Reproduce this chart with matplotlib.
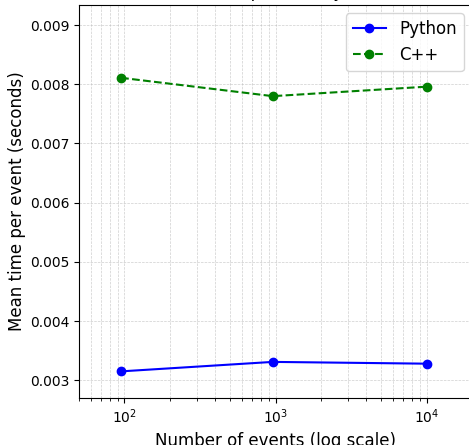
import matplotlib
matplotlib.use("Agg")
import matplotlib.pyplot as plt

events = [95, 960, 10000]
python_times = [0.00315, 0.00331, 0.00328]
cpp_times = [0.00811, 0.00780, 0.00796]

W, H = 469, 445
fig = plt.figure(figsize=(W / 100, H / 100), dpi=100)
ax = fig.add_axes([79 / W, 1 - 398 / H, (472 - 79) / W, (398 - 5) / H])

ax.plot(events, python_times, 'o-', color='blue', label='Python')
ax.plot(events, cpp_times, 'o--', color='green', label='C++')
ax.set_xscale('log')
ax.set_xlim(50, 20000)
ax.set_ylim(0.00270, 0.00934)
ax.set_xlabel('Number of events (log scale)', fontsize=12)
ax.set_ylabel('Mean time per event (seconds)', fontsize=12, labelpad=3)
ax.set_title('Performance Comparison: Python vs C++', fontsize=12)
ax.grid(True, which='both', linestyle='--', linewidth=0.5, alpha=0.6)
ax.legend(loc='upper right', fontsize=12)

fig.savefig('out.png', dpi=100)
